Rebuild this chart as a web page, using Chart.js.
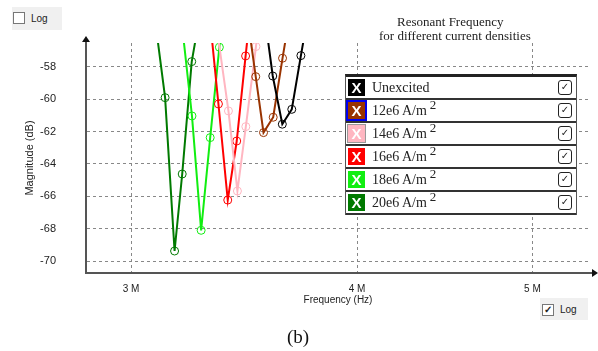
<!DOCTYPE html>
<html>
<head>
<meta charset="utf-8">
<script src="https://cdn.jsdelivr.net/npm/chart.js@4"></script>
<style>
  body { margin: 0; background: #fff; }
  #wrap { position: relative; width: 598px; height: 351px; overflow: hidden; }
  #chart { position: absolute; left: 0; top: 0; }
  .ttl { position: absolute; font-family: 'Liberation Serif', serif; font-size: 13px; color: #222; white-space: nowrap; }
  .logbox { position: absolute; background: #f0f0f0; font-family: 'Liberation Sans', sans-serif; font-size: 10px; color: #222; }
  .cb { position: absolute; width: 10px; height: 10px; border: 1px solid #777; background: #fff; font-size: 10px; line-height: 10px; text-align: center; font-weight: bold; }
  #legend { position: absolute; left: 345px; top: 74px; width: 230px; border-top: 3px solid #222; border-left: 1px solid #555; border-right: 1px solid #555; }
  .row { position: relative; height: 21px; border-bottom: 2px solid #333; background: #fff; font-family: 'Liberation Serif', serif; font-size: 14px; color: #222; }
  .sw { position: absolute; left: 2px; top: 2px; width: 17px; height: 17px; color: #fff; font-family: 'Liberation Sans', sans-serif; font-weight: bold; font-size: 15px; line-height: 17px; text-align: center; }
  .lab { position: absolute; left: 26px; top: 1px; line-height: 20px; white-space: nowrap; }
  .lab sup { font-size: 13px; vertical-align: baseline; position: relative; top: -6px; margin-left: 3px; }
  .chk { position: absolute; right: 4px; top: 3px; width: 12px; height: 13px; border: 1.5px solid #222; border-radius: 3px; font-family: 'DejaVu Sans', sans-serif; font-size: 10px; line-height: 12px; text-align: center; }
  #cap { position: absolute; left: 287px; top: 326px; font-family: 'Liberation Serif', serif; font-size: 19px; color: #111; }
</style>
</head>
<body>
<div id="wrap">
  <canvas id="chart" width="598" height="351"></canvas>
  <div class="ttl" style="left:397px; top:14px;">Resonant Frequency</div>
  <div class="ttl" style="left:379px; top:28px;">for different current densities</div>
  <div class="logbox" style="left:12px; top:7px; width:50px; height:23px;">
    <div class="cb" style="left:1px; top:5px;"></div>
    <div style="position:absolute; left:19px; top:6px;">Log</div>
  </div>
  <div class="logbox" style="left:540px; top:298px; width:48px; height:22px;">
    <div class="cb" style="left:2px; top:6px;">✓</div>
    <div style="position:absolute; left:20px; top:6px;">Log</div>
  </div>
  <div id="legend"></div>
  <div id="cap">(b)</div>
</div>
<script>
// frequencies in MHz, magnitudes in dB (first/last points lie just above the plot top)
const freqUnexcited = [3.549, 3.593, 3.637, 3.681, 3.724, 3.767];
const magUnexcited  = [-54.1, -58.56, -61.54, -60.62, -57.30, -54.1];

const freq12 = [3.473, 3.516, 3.551, 3.595, 3.638, 3.681];
const mag12  = [-54.3, -58.6, -62.06, -61.11, -57.46, -54.0];

const freq14 = [3.349, 3.396, 3.435, 3.472, 3.517, 3.56];
const mag14  = [-55.9, -60.72, -65.67, -61.69, -56.74, -51.8];

const freq16 = [3.314, 3.353, 3.393, 3.432, 3.471, 3.510];
const mag16  = [-54.6, -60.29, -66.23, -62.58, -57.32, -52.2];

const freq18 = [3.204, 3.242, 3.280, 3.318, 3.357, 3.396];
const mag18  = [-55.8, -61.03, -68.10, -62.37, -56.78, -51.3];

const freq20 = [3.097, 3.133, 3.171, 3.202, 3.241, 3.277];
const mag20  = [-55.55, -59.90, -69.38, -64.62, -57.67, -54.6];

const seriesNames = ['Unexcited', '12e6 A/m', '14e6  A/m', '16e6  A/m', '18e6 A/m', '20e6 A/m'];
const seriesColors = ['#000000', '#993300', '#ffb6c1', '#ff0000', '#11ee11', '#007a00'];

const xTicks = [3, 4, 5];
const yTicks = [-70, -68, -66, -64, -62, -60, -58];

const allFreq = [freqUnexcited, freq12, freq14, freq16, freq18, freq20];
const allMag = [magUnexcited, mag12, mag14, mag16, mag18, mag20];

function pts(f, m) {
    return f.map((v, i) => ({ x: v, y: m[i] }));
}

const datasets = allFreq.map((f, i) => ({
    label: seriesNames[i],
    data: pts(f, allMag[i]),
    borderColor: seriesColors[i],
    backgroundColor: 'rgba(0,0,0,0)',
    borderWidth: 2,
    pointRadius: 4,
    pointBorderWidth: 1,
    pointBorderColor: seriesColors[i],
    pointBackgroundColor: 'rgba(0,0,0,0)',
    tension: 0,
    clip: 0
}));

// legend rows
const legendEl = document.getElementById('legend');
seriesNames.forEach((name, i) => {
    const row = document.createElement('div');
    row.className = 'row';
    const sw = document.createElement('div');
    sw.className = 'sw';
    sw.style.background = seriesColors[i];
    if (i === 1) sw.style.outline = '2px solid #0000ee';
    if (i === 2) sw.style.outline = '1px solid #999';
    sw.textContent = 'X';
    const lab = document.createElement('div');
    lab.className = 'lab';
    if (i === 0) lab.textContent = name;
    else lab.innerHTML = name + '<sup>2</sup>';
    const chk = document.createElement('div');
    chk.className = 'chk';
    chk.textContent = '✓';
    row.appendChild(sw); row.appendChild(lab); row.appendChild(chk);
    legendEl.appendChild(row);
});

const arrows = {
    id: 'arrows',
    afterDraw(chart) {
        const ctx = chart.ctx;
        const a = chart.chartArea;
        ctx.save();
        ctx.strokeStyle = '#555';
        ctx.fillStyle = '#111';
        ctx.lineWidth = 2;
        ctx.beginPath();
        ctx.moveTo(a.left, a.top);
        ctx.lineTo(a.left, a.top - 2);
        ctx.moveTo(a.right, a.bottom);
        ctx.lineTo(a.right + 3, a.bottom);
        ctx.stroke();
        ctx.beginPath();
        ctx.moveTo(a.left, a.top - 7);
        ctx.lineTo(a.left - 4, a.top - 1);
        ctx.lineTo(a.left + 4, a.top - 1);
        ctx.closePath();
        ctx.fill();
        ctx.beginPath();
        ctx.moveTo(a.right + 8, a.bottom);
        ctx.lineTo(a.right + 2, a.bottom - 4);
        ctx.lineTo(a.right + 2, a.bottom + 4);
        ctx.closePath();
        ctx.fill();
        ctx.restore();
    }
};

const ctx = document.getElementById('chart').getContext('2d');
const chart = new Chart(ctx, {
    type: 'line',
    data: { datasets: datasets },
    options: {
        responsive: false,
        animation: false,
        layout: { padding: { left: 0, right: 8, top: 43, bottom: 45 } },
        plugins: {
            legend: { display: false },
            tooltip: { enabled: false }
        },
        scales: {
            x: {
                type: 'logarithmic',
                min: 2.833,
                max: 5.38,
                afterFit: (s) => { s.height = 33; },
                afterBuildTicks: (s) => { s.ticks = xTicks.map(v => ({ value: v })); },
                grid: { color: '#888', drawTicks: false, tickLength: 0 },
                border: { display: true, color: '#555', width: 2, dash: [3, 3] },
                ticks: {
                    padding: 10,
                    color: '#222',
                    font: { family: "'Liberation Sans', sans-serif", size: 10 },
                    callback: (v) => v + ' M'
                },
                title: {
                    display: true,
                    text: 'Frequency (Hz)',
                    color: '#222',
                    padding: { top: 0, bottom: 0 },
                    font: { family: "'Liberation Sans', sans-serif", size: 10 }
                }
            },
            y: {
                min: -70.74,
                max: -56.52,
                afterFit: (s) => { s.width = 86; },
                afterBuildTicks: (s) => { s.ticks = yTicks.map(v => ({ value: v })); },
                grid: { color: '#888', drawTicks: false, tickLength: 0 },
                border: { display: true, color: '#555', width: 2, dash: [3, 3] },
                ticks: {
                    padding: 30,
                    color: '#222',
                    font: { family: "'Liberation Sans', sans-serif", size: 11 }
                },
                title: {
                    display: true,
                    text: 'Magnitude (dB)',
                    color: '#222',
                    padding: { top: 23, bottom: 0 },
                    font: { family: "'Liberation Sans', sans-serif", size: 11 }
                }
            }
        }
    },
    plugins: [arrows]
});
</script>
</body>
</html>
